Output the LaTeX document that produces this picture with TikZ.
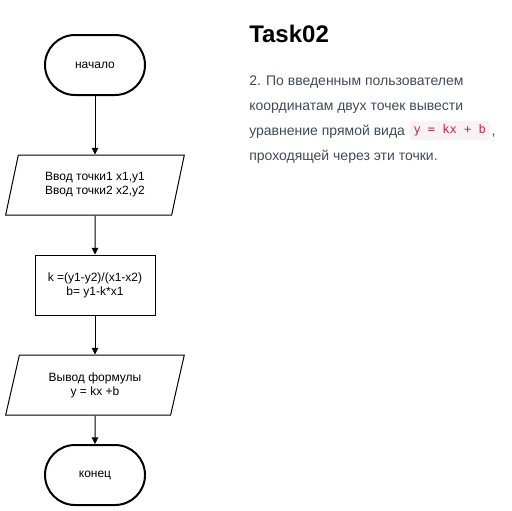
\documentclass[tikz,border=0pt]{standalone}
\usepackage{fontspec}
\setmainfont{Liberation Sans}
\newfontfamily\bodyfont{Liberation Sans}
\newfontfamily\codefont{DejaVu Sans Mono}
\usetikzlibrary{shapes.geometric,arrows.meta}
\definecolor{bodytxt}{HTML}{3F4B5B}
\definecolor{codetxt}{HTML}{C7254E}
\definecolor{codebg}{HTML}{F9F2F4}
\tikzset{
  terminal/.style={draw,line width=1.5pt,rounded corners=22.5pt,minimum width=75pt,minimum height=45pt,font=\fontsize{9}{11}\selectfont,align=center,inner sep=0pt},
  iobox/.style={draw,line width=0.75pt,trapezium,trapezium stretches=true,trapezium left angle=71.6,trapezium right angle=108.4,minimum width=135pt,minimum height=45pt,font=\fontsize{9}{10.5}\selectfont,align=center,inner sep=0pt},
  procbox/.style={draw,line width=0.75pt,minimum width=90pt,minimum height=45pt,font=\fontsize{9}{10.5}\selectfont,align=center,inner sep=0pt},
  flow/.style={draw,line width=0.75pt,-{Triangle[length=5pt,width=5pt]}},
  bodyline/.style={anchor=base west,inner sep=0pt,font=\bodyfont\fontsize{10.5}{12}\selectfont,text=bodytxt}
}
\begin{document}
\begin{tikzpicture}[x=0.75pt,y=-0.75pt]
\useasboundingbox (0,0) rectangle (512,511);
\node[terminal] (start) at (95,65) {начало};
\node[iobox] (in) at (95,185) {Ввод точки1 x1,y1\\Ввод точки2 x2,y2};
\node[procbox] (calc) at (95,285) {k =(y1-y2)/(x1-x2)\\b= y1-k*x1};
\node[iobox] (out) at (95,385) {Вывод формулы\\y = kx +b};
\node[terminal] (end) at (95,475) {конец};
\draw[flow] (start) -- (in);
\draw[flow] (in) -- (calc);
\draw[flow] (calc) -- (out);
\draw[flow] (out) -- (end);
\node[anchor=base west,inner sep=0pt,font=\bfseries\fontsize{18}{20}\selectfont] (title) at (249,42) {Task02};
\node[bodyline] (l1) at (249,85) {2. По введенным пользователем};
\node[bodyline] (l2) at (249,110) {координатам двух точек вывести};
\node[bodyline] (l3) at (249,135) {уравнение прямой вида};
\node[anchor=west,fill=codebg,rounded corners=2pt,inner xsep=3pt,inner ysep=3pt,font=\codefont\fontsize{9}{10}\selectfont,text=codetxt] (code) at ([xshift=3pt,yshift=3.3pt]l3.base east) {y = kx + b};
\node[anchor=base west,inner sep=0pt,font=\bodyfont\fontsize{10.5}{12}\selectfont,text=bodytxt] (comma) at ([xshift=1pt]code.east |- l3.base) {,};
\node[bodyline] (l4) at (249,160) {проходящей через эти точки.};
\end{tikzpicture}
\end{document}
